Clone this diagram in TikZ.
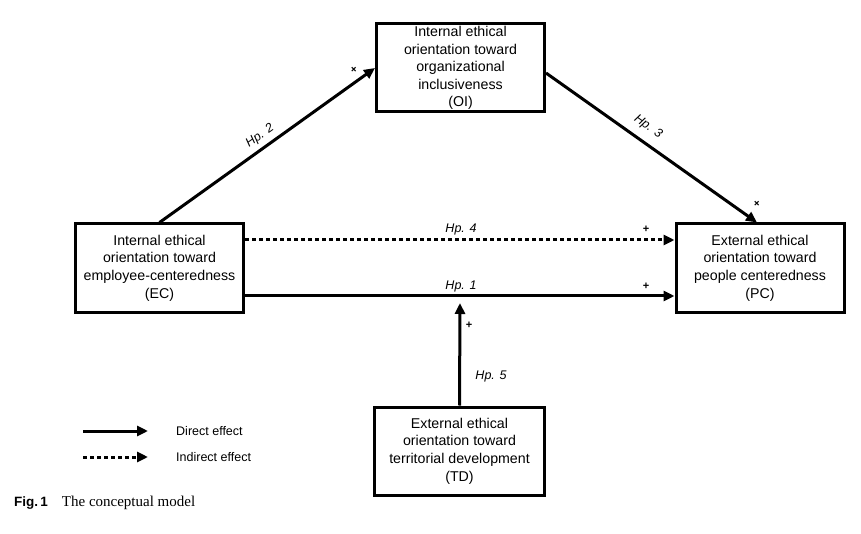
\documentclass[tikz,border=0pt]{standalone}
\usepackage{fontspec}
\setmainfont{Liberation Sans}
\newfontfamily\capserif{Liberation Serif}
\usetikzlibrary{arrows.meta}
\begin{document}
\begin{tikzpicture}[x=1pt,y=-1pt,
  box/.style={draw,line width=3pt,minimum width=168pt,minimum height=88pt,inner sep=0pt,align=center,font=\fontsize{14.2}{17.6}\selectfont},
  arr/.style={line width=3pt,-{Triangle[length=11pt,width=10pt]}},
  dotarr/.style={line width=3pt,dash pattern=on 3.5pt off 3.5pt,-{Triangle[length=11pt,width=10pt]}},
  hp/.style={font=\fontsize{12.5}{14}\selectfont\itshape,inner sep=0pt},
  sgn/.style={font=\fontsize{11}{12}\selectfont\bfseries,inner sep=0pt},
  leg/.style={font=\fontsize{12.5}{14}\selectfont,anchor=west,inner sep=0pt}]
\useasboundingbox (0,0) rectangle (861,534);
\node[box] (OI) at (460.5,68) {Internal ethical\\orientation toward\\organizational\\inclusiveness\\(OI)};
\node[box] (EC) at (159.5,268) {Internal ethical\\orientation toward\\employee-centeredness\\(EC)};
\node[box] (PC) at (760,268) {External ethical\\orientation toward\\people centeredness\\(PC)};
\node[box,minimum width=170pt] (TD) at (459.5,451) {External ethical\\orientation toward\\territorial development\\(TD)};
\coordinate (h5) at (460,303);
\draw[arr] (EC.north) -- (OI.west);
\draw[arr] ([yshift=-5pt]OI.east) -- ([xshift=-3pt]PC.north);
\draw[dotarr] ([yshift=28pt]EC.east) -- ([yshift=28pt]PC.west);
\draw[arr] ([yshift=-28pt]EC.east) -- ([yshift=-28pt]PC.west);
\draw[arr] (TD.north) -- (h5);
\node[hp,rotate=35.5] (l2) at (260,136) {Hp. 2};
\node[hp,rotate=-35] (l3) at (648,127) {Hp. 3};
\node[hp] (l4) at (461,229) {Hp. 4};
\node[hp] (l1) at (461,286) {Hp. 1};
\node[hp] (l5) at (491,376) {Hp. 5};
\node[sgn,rotate=45] (s2) at (354,70) {+};
\node[sgn,rotate=45] (s3) at (757,204) {+};
\node[sgn] (s4) at (646,229) {+};
\node[sgn] (s1) at (646,286) {+};
\node[sgn] (s5) at (469,325) {+};
\coordinate (la1) at (83,431);
\coordinate (lb1) at (148,431);
\coordinate (la2) at (83,457);
\coordinate (lb2) at (148,457);
\draw[arr] (la1) -- (lb1);
\draw[dotarr] (la2) -- (lb2);
\node[leg] (t1) at (176,431) {Direct effect};
\node[leg] (t2) at (176,457) {Indirect effect};
\node[anchor=base west,inner sep=0pt] (cap) at (14,506) {\fontsize{13.5}{15}\selectfont\bfseries Fig.\,1\hspace{14pt}\capserif\mdseries\fontsize{15}{17}\selectfont The conceptual model};
\end{tikzpicture}
\end{document}
